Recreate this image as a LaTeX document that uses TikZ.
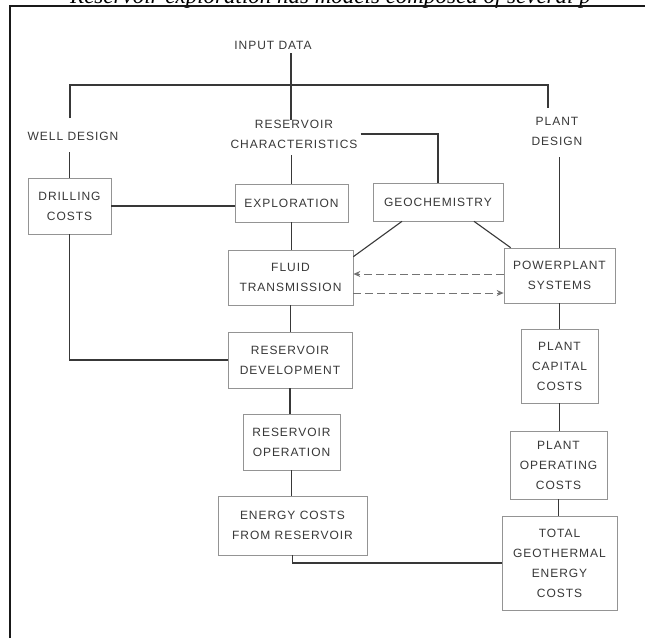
\documentclass[tikz,border=0pt]{standalone}
\usepackage{fontspec}
\setmainfont{Liberation Serif}
\newfontfamily\labfont[LetterSpace=8]{Liberation Sans}
\usetikzlibrary{arrows.meta}
\begin{document}
\begin{tikzpicture}[x=1pt,y=-1pt,
  lab/.style={font=\labfont\fontsize{12}{20}\selectfont, text=black!78, align=center, inner sep=0pt},
  box/.style={lab, draw=black!42, line width=0.65pt},
  con/.style={draw=black!78, line width=1.1pt},
  dsh/.style={draw=black!55, line width=0.9pt, dash pattern=on 8pt off 4pt, -{Stealth[length=7pt,width=6pt]}},
  frame/.style={draw=black!90, line width=1.6pt}]
\useasboundingbox (0,0) rectangle (645,638);
\clip (0,0) rectangle (645,638);
\fill[white] (0,0) rectangle (645,638);
% header fragment and frame
\node[anchor=base west, inner sep=0pt, font=\fontsize{23}{23}\selectfont\itshape] (head) at (70,3.5) {Reservoir exploration has models composed of several p};
\draw[frame] (10,638) -- (10,6) -- (645,6);
% labels
\node[lab] (input) at (273,45) {INPUT DATA};
\node[lab] (rc) at (294,134) {RESERVOIR\\CHARACTERISTICS};
\node[lab] (well) at (73,136) {WELL DESIGN};
\node[lab] (pd) at (557,131) {PLANT\\DESIGN};
% boxes
\node[box, minimum width=83pt, minimum height=56pt] (drill) at (69.5,206) {DRILLING\\COSTS};
\node[box, minimum width=113pt, minimum height=38pt] (expl) at (291.5,203) {EXPLORATION};
\node[box, minimum width=130pt, minimum height=38pt] (geo) at (438,202) {GEOCHEMISTRY};
\node[box, minimum width=125pt, minimum height=55pt] (fluid) at (290.5,277.5) {FLUID\\TRANSMISSION};
\node[box, minimum width=111pt, minimum height=55pt] (power) at (559.5,275.5) {POWERPLANT\\SYSTEMS};
\node[box, minimum width=124pt, minimum height=56pt] (resdev) at (290,360) {RESERVOIR\\DEVELOPMENT};
\node[box, minimum width=97pt, minimum height=56pt] (resop) at (291.5,442) {RESERVOIR\\OPERATION};
\node[box, minimum width=149pt, minimum height=59pt] (energy) at (292.5,525.5) {ENERGY COSTS\\FROM RESERVOIR};
\node[box, minimum width=77pt, minimum height=74pt] (pcap) at (559.5,366) {PLANT\\CAPITAL\\COSTS};
\node[box, minimum width=97pt, minimum height=68pt] (pop) at (558.5,465) {PLANT\\OPERATING\\COSTS};
\node[box, minimum width=115pt, minimum height=94pt] (total) at (559.5,563) {TOTAL\\GEOTHERMAL\\ENERGY\\COSTS};
% junction coordinates
\coordinate (j) at (291,85);
\coordinate (jl) at (70,85);
\coordinate (jr) at (548,85);
\coordinate (wtop) at (70,118);
\coordinate (ptop) at (548,108);
\coordinate (dup) at (430,274);
\coordinate (ddn) at (430,293);
% connectors
\draw[con] (input.south -| j) ++(0,4) -- (j) -- (rc.north -| j);
\draw[con] (wtop) -- (jl) -- (jr) -- (ptop);
\draw[con, shorten <=12pt] (well.south -| drill.north) -- (drill.north);
\draw[con, shorten <=7pt] (rc.south -| expl.north) -- (expl.north);
\draw[con, shorten <=3pt] (rc.east) -| (geo.north);
\draw[con, shorten <=12pt] (pd.south -| power.north) -- (power.north);
\draw[con] (drill.east) -- (drill.east -| expl.west);
\draw[con] (drill.south) |- (resdev.west);
\draw[con] (expl.south) -- (expl.south |- fluid.north);
\draw[con] (fluid.south) -- (fluid.south |- resdev.north);
\draw[con] (resdev.south) -- (resdev.south |- resop.north);
\draw[con] (resop.south) -- (resop.south |- energy.north);
\draw[con] (energy.south) |- (total.west);
\draw[con] ([xshift=-36pt]geo.south) -- ([yshift=-7pt]fluid.north east);
\draw[con] ([xshift=36pt]geo.south) -- ([xshift=7pt]power.north west);
\draw[con] (power.south) -- (power.south |- pcap.north);
\draw[con] (pcap.south) -- (pcap.south |- pop.north);
\draw[con] (pop.south) -- (pop.south |- total.north);
\draw[dsh] (power.west |- dup) -- (fluid.east |- dup);
\draw[dsh] (fluid.east |- ddn) -- (power.west |- ddn);
\end{tikzpicture}
\end{document}
